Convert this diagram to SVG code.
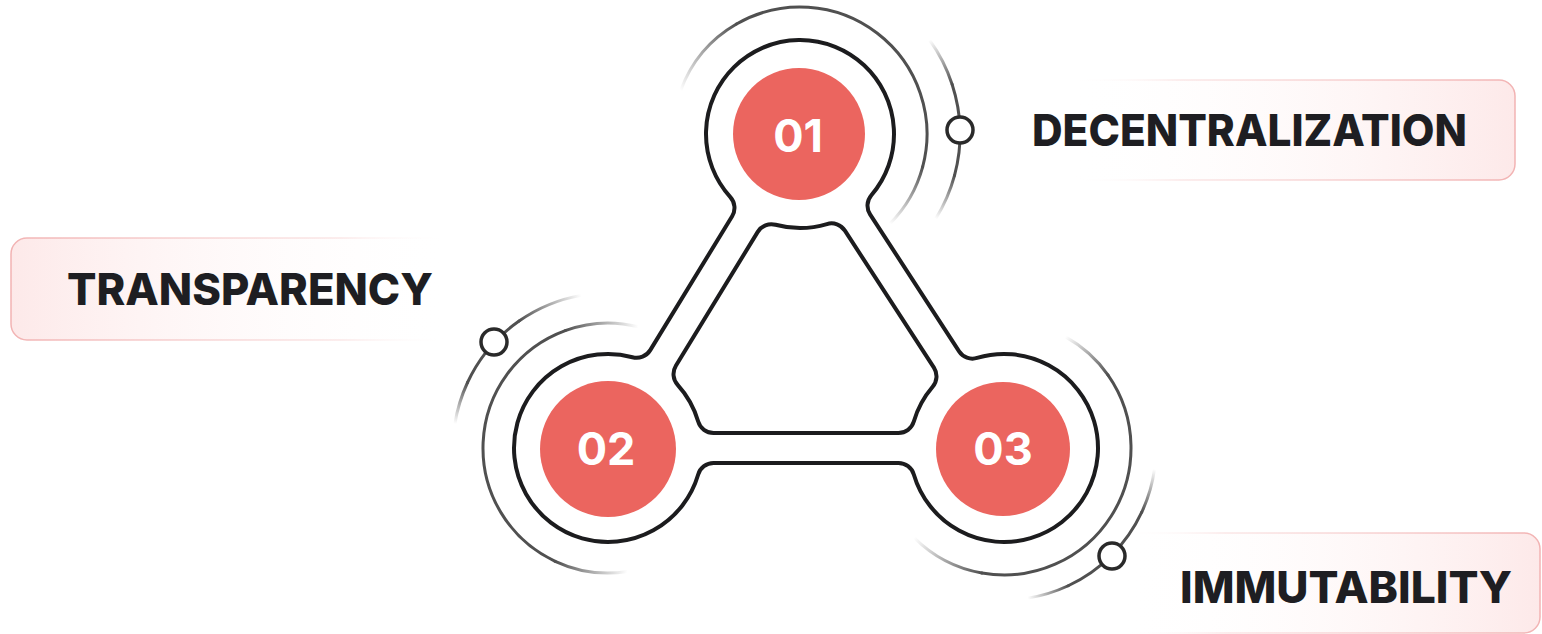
<svg xmlns="http://www.w3.org/2000/svg" width="1542" height="634" viewBox="0 0 1542 634">
  <defs>
    <style>
      .frame { fill: #ffffff; fill-rule: evenodd; stroke: #1c1c1e; stroke-width: 4; stroke-linejoin: round; }
      .core { fill: #eb655f; }
      .num { font-family: Inter, "Liberation Sans", sans-serif; font-weight: 700; font-size: 45px; fill: #ffffff; text-anchor: middle; }
      .label { font-family: Inter, "Liberation Sans", sans-serif; font-weight: 800; font-size: 44px; fill: #1e1e22; }
      .orbit { fill: none; stroke-width: 3; stroke-linecap: round; }
      .solid { stroke: #505050; }
      .pin { fill: #ffffff; stroke: #2a2a2a; stroke-width: 3.5; }
    </style>
    <!-- label panels: pink tint fading toward the diagram -->
    <linearGradient id="panelL" x1="0" y1="0" x2="1" y2="0">
      <stop offset="0" stop-color="#fde9e9"/>
      <stop offset="1" stop-color="#ffffff" stop-opacity="0"/>
    </linearGradient>
    <linearGradient id="panelLs" x1="0" y1="0" x2="1" y2="0">
      <stop offset="0" stop-color="#f2b3b3"/>
      <stop offset="0.75" stop-color="#f6d0d0" stop-opacity="0.5"/>
      <stop offset="1" stop-color="#ffffff" stop-opacity="0"/>
    </linearGradient>
    <linearGradient id="panelR" x1="1" y1="0" x2="0" y2="0">
      <stop offset="0" stop-color="#fde9e9"/>
      <stop offset="1" stop-color="#ffffff" stop-opacity="0"/>
    </linearGradient>
    <linearGradient id="panelRs" x1="1" y1="0" x2="0" y2="0">
      <stop offset="0" stop-color="#f2b3b3"/>
      <stop offset="0.75" stop-color="#f6d0d0" stop-opacity="0.5"/>
      <stop offset="1" stop-color="#ffffff" stop-opacity="0"/>
    </linearGradient>
    <!-- orbit end fades (from faded end to solid join) -->
    <linearGradient id="fA1" gradientUnits="userSpaceOnUse" x1="680.66" y1="90.57" x2="736.5" y2="24.02"><stop offset="0" stop-color="#505050" stop-opacity="0"/><stop offset="1" stop-color="#505050"/></linearGradient>
    <linearGradient id="fA2" gradientUnits="userSpaceOnUse" x1="889.8" y1="223.8" x2="922.67" y2="166.87"><stop offset="0" stop-color="#505050" stop-opacity="0"/><stop offset="1" stop-color="#505050"/></linearGradient>
    <linearGradient id="fA3" gradientUnits="userSpaceOnUse" x1="929.44" y1="39.95" x2="952.17" y2="84.56"><stop offset="0" stop-color="#505050" stop-opacity="0"/><stop offset="1" stop-color="#505050"/></linearGradient>
    <linearGradient id="fA4" gradientUnits="userSpaceOnUse" x1="935.68" y1="218.78" x2="954.55" y2="175.41"><stop offset="0" stop-color="#505050" stop-opacity="0"/><stop offset="1" stop-color="#505050"/></linearGradient>
    <linearGradient id="fB1" gradientUnits="userSpaceOnUse" x1="627.55" y1="571.46" x2="555.17" y2="561.29"><stop offset="0" stop-color="#505050" stop-opacity="0"/><stop offset="1" stop-color="#505050"/></linearGradient>
    <linearGradient id="fB2" gradientUnits="userSpaceOnUse" x1="638.24" y1="326.71" x2="565.25" y2="330.54"><stop offset="0" stop-color="#505050" stop-opacity="0"/><stop offset="1" stop-color="#505050"/></linearGradient>
    <linearGradient id="fB3" gradientUnits="userSpaceOnUse" x1="454.91" y1="423.76" x2="467.52" y2="382.5"><stop offset="0" stop-color="#505050" stop-opacity="0"/><stop offset="1" stop-color="#505050"/></linearGradient>
    <linearGradient id="fB4" gradientUnits="userSpaceOnUse" x1="581.09" y1="295.36" x2="519.09" y2="321.03"><stop offset="0" stop-color="#505050" stop-opacity="0"/><stop offset="1" stop-color="#505050"/></linearGradient>
    <linearGradient id="fC1" gradientUnits="userSpaceOnUse" x1="1065.57" y1="336.93" x2="1108.04" y2="375.16"><stop offset="0" stop-color="#505050" stop-opacity="0"/><stop offset="1" stop-color="#505050"/></linearGradient>
    <linearGradient id="fC2" gradientUnits="userSpaceOnUse" x1="914.2" y1="537.8" x2="981.95" y2="573.07"><stop offset="0" stop-color="#505050" stop-opacity="0"/><stop offset="1" stop-color="#505050"/></linearGradient>
    <linearGradient id="fC3" gradientUnits="userSpaceOnUse" x1="1154.52" y1="469.16" x2="1141.76" y2="512.24"><stop offset="0" stop-color="#505050" stop-opacity="0"/><stop offset="1" stop-color="#505050"/></linearGradient>
    <linearGradient id="fC4" gradientUnits="userSpaceOnUse" x1="1027.77" y1="598.13" x2="1068.24" y2="585.76"><stop offset="0" stop-color="#505050" stop-opacity="0"/><stop offset="1" stop-color="#505050"/></linearGradient>
  </defs>

  <rect width="1542" height="634" fill="#ffffff"/>

  <!-- label panels -->
  <g id="label-transparency">
    <rect x="11" y="238" width="440" height="102" rx="16" fill="url(#panelL)" stroke="url(#panelLs)" stroke-width="1.5"/>
    <text class="label" x="67" y="305" textLength="366" lengthAdjust="spacingAndGlyphs">TRANSPARENCY</text>
  </g>
  <g id="label-decentralization">
    <rect x="1070" y="80" width="445" height="100" rx="16" fill="url(#panelR)" stroke="url(#panelRs)" stroke-width="1.5"/>
    <text class="label" x="1032" y="146" textLength="435" lengthAdjust="spacingAndGlyphs">DECENTRALIZATION</text>
  </g>
  <g id="label-immutability">
    <rect x="1120" y="533" width="420" height="100" rx="16" fill="url(#panelR)" stroke="url(#panelRs)" stroke-width="1.5"/>
    <text class="label" x="1180" y="603" textLength="332" lengthAdjust="spacingAndGlyphs">IMMUTABILITY</text>
  </g>

  <!-- tube frame joining the three rings, with filleted junctions -->
  <g id="connectors">
    <path class="frame" d="
      M730.35,197.13 A94,94 0 1 1 871.35,195.2 A16,16 0 0 0 870.08,214.33
      L959.08,351.33 A16,16 0 0 0 977.07,357.94 A94,94 0 1 1 913.81,474.49
      A16,16 0 0 0 898.46,463 L713.54,463 A16,16 0 0 0 698.19,474.49
      A94,94 0 1 1 632.45,357.23 A16,16 0 0 0 650.26,350.13
      L732.14,216.21 A16,16 0 0 0 730.35,197.13 Z
      M775.55,224.77 A94,94 0 0 0 826.93,224.06 A16,16 0 0 1 844.92,230.67
      L933.92,367.67 A16,16 0 0 1 932.65,386.8 A94,94 0 0 0 913.81,421.51
      A16,16 0 0 1 898.46,433 L713.54,433 A16,16 0 0 1 698.19,421.51
      A94,94 0 0 0 677.65,384.87 A16,16 0 0 1 675.86,365.79
      L757.74,231.87 A16,16 0 0 1 775.55,224.77 Z"/>
  </g>

  <!-- node 01 -->
  <g id="node-01">
    <path class="orbit" stroke="url(#fA1)" d="M680.66,90.57 A127,127 0 0 1 736.5,24.02"/>
    <path class="orbit solid" d="M736.5,24.02 A127,127 0 0 1 922.67,166.87"/>
    <path class="orbit" stroke="url(#fA2)" d="M922.67,166.87 A127,127 0 0 1 889.8,223.8"/>
    <path class="orbit" stroke="url(#fA3)" d="M929.44,39.95 A160,160 0 0 1 952.17,84.56"/>
    <path class="orbit solid" d="M952.17,84.56 A160,160 0 0 1 954.55,175.41"/>
    <path class="orbit" stroke="url(#fA4)" d="M954.55,175.41 A160,160 0 0 1 935.68,218.78"/>
    <circle class="pin" cx="960" cy="130" r="13"/>
    <circle class="core" cx="799" cy="134" r="66"/>
    <text class="num" x="798" y="152">01</text>
  </g>

  <!-- node 02 -->
  <g id="node-02">
    <path class="orbit" stroke="url(#fB1)" d="M627.55,571.46 A125,125 0 0 1 555.17,561.29"/>
    <path class="orbit solid" d="M555.17,561.29 A125,125 0 0 1 565.25,330.54"/>
    <path class="orbit" stroke="url(#fB2)" d="M565.25,330.54 A125,125 0 0 1 638.24,326.71"/>
    <path class="orbit" stroke="url(#fB3)" d="M454.91,423.76 A155,155 0 0 1 467.52,382.5"/>
    <path class="orbit solid" d="M467.52,382.5 A155,155 0 0 1 519.09,321.03"/>
    <path class="orbit" stroke="url(#fB4)" d="M519.09,321.03 A155,155 0 0 1 581.09,295.36"/>
    <circle class="pin" cx="494" cy="342" r="13"/>
    <circle class="core" cx="608" cy="449" r="68"/>
    <text class="num" x="606" y="465">02</text>
  </g>

  <!-- node 03 -->
  <g id="node-03">
    <path class="orbit" stroke="url(#fC1)" d="M1065.57,336.93 A127,127 0 0 1 1108.04,375.16"/>
    <path class="orbit solid" d="M1108.04,375.16 A127,127 0 0 1 981.95,573.07"/>
    <path class="orbit" stroke="url(#fC2)" d="M981.95,573.07 A127,127 0 0 1 914.2,537.8"/>
    <path class="orbit" stroke="url(#fC3)" d="M1154.52,469.16 A152,152 0 0 1 1141.76,512.24"/>
    <path class="orbit solid" d="M1141.76,512.24 A152,152 0 0 1 1068.24,585.76"/>
    <path class="orbit" stroke="url(#fC4)" d="M1068.24,585.76 A152,152 0 0 1 1027.77,598.13"/>
    <circle class="pin" cx="1112" cy="556" r="13"/>
    <circle class="core" cx="1003" cy="449" r="67"/>
    <text class="num" x="1003" y="465">03</text>
  </g>
</svg>
